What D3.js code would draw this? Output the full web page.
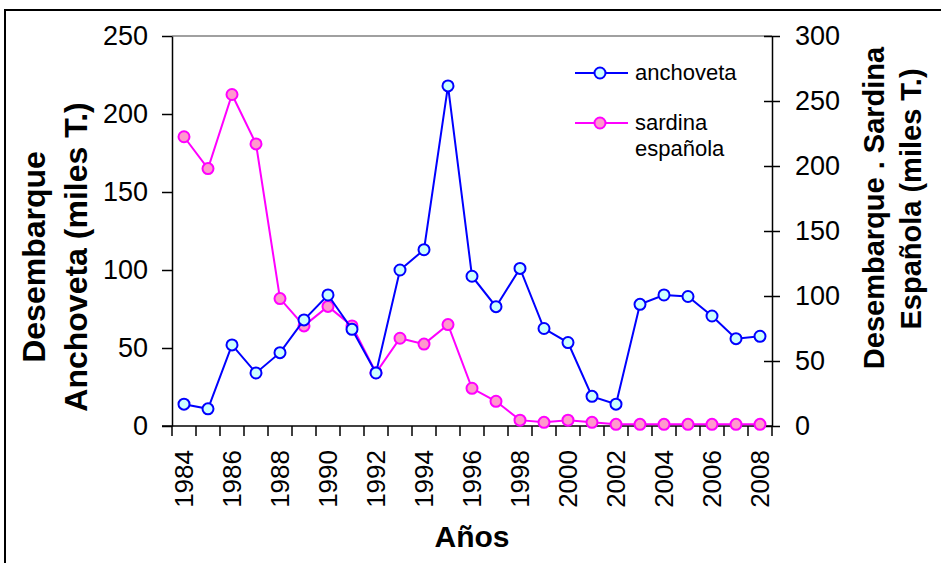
<!DOCTYPE html>
<html>
<head>
<meta charset="utf-8">
<script src="https://cdnjs.cloudflare.com/ajax/libs/d3/7.8.5/d3.min.js"></script>
<style>
body { margin: 0; background: #fff; }
text { font-family: "Liberation Sans", Arial, sans-serif; fill: #000; }
</style>
</head>
<body>
<svg id="chart" width="941" height="563"></svg>
<script>
var years = [1984, 1985, 1986, 1987, 1988, 1989, 1990, 1991, 1992, 1993, 1994, 1995, 1996,
             1997, 1998, 1999, 2000, 2001, 2002, 2003, 2004, 2005, 2006, 2007, 2008];
// miles T., left axis
var anchoveta = [14, 11, 52, 34, 47, 68, 84, 62, 34, 100, 113, 218, 96,
                 76.5, 101, 62.5, 53.5, 19, 14, 78, 84, 83, 70.5, 56, 57.5];
// miles T., right axis
var sardina = [222.5, 198, 255, 217, 98, 77, 92, 77, 41, 67.5, 63, 78, 29,
               19, 4.5, 2.8, 4.5, 2.8, 1.3, 1.3, 1.3, 1.3, 1.3, 1.3, 1.3];
var leftTicks = [0, 50, 100, 150, 200, 250];
var rightTicks = [0, 50, 100, 150, 200, 250, 300];
var yearLabels = years.filter(function (d, i) { return i % 2 == 0; });

var svg = d3.select("#chart");
var plotLeft = 172, plotRight = 772, plotTop = 36, plotBottom = 426;

// outer frame
svg.append("rect")
    .attr("x", 5).attr("y", 10)
    .attr("width", 1000).attr("height", 700)
    .attr("fill", "none")
    .attr("stroke", "#000")
    .attr("stroke-width", 2);

var x = d3.scaleBand().domain(years).range([plotLeft, plotRight]).padding(0);
var yLeft = d3.scaleLinear().domain([0, 250]).range([plotBottom, plotTop]);
var yRight = d3.scaleLinear().domain([0, 300]).range([plotBottom, plotTop]);
var cx = function (d) { return x(d) + x.bandwidth() / 2; };

// top border of plot area
svg.append("line")
    .attr("x1", plotLeft).attr("x2", plotRight)
    .attr("y1", plotTop).attr("y2", plotTop)
    .attr("stroke", "#808080")
    .attr("stroke-width", 1.5);

// left axis
var gLeft = svg.append("g")
    .attr("transform", "translate(" + plotLeft + ",0)")
    .call(d3.axisLeft(yLeft).tickValues(leftTicks).tickSize(10).tickSizeOuter(0).tickPadding(14));

// right axis, ticks cross the line
var gRight = svg.append("g")
    .attr("transform", "translate(" + plotRight + ",0)")
    .call(d3.axisRight(yRight).tickValues(rightTicks).tickSize(8).tickSizeOuter(0).tickPadding(15));
gRight.selectAll(".tick line").attr("x1", -8);

// x axis: ticks on category boundaries, labels every second year
var gX = svg.append("g")
    .attr("transform", "translate(0," + plotBottom + ")")
    .call(d3.axisBottom(x).tickValues(yearLabels).tickSize(0).tickSizeOuter(0));
gX.selectAll(".tick text")
    .attr("transform", "rotate(-90)")
    .attr("x", -24)
    .attr("y", 0)
    .attr("dy", "0.36em")
    .attr("text-anchor", "end");
gX.selectAll(".boundary")
    .data(years.concat(["end"]))
    .enter().append("line")
    .attr("class", "boundary")
    .attr("x1", function (d) { return d == "end" ? plotRight : x(d); })
    .attr("x2", function (d) { return d == "end" ? plotRight : x(d); })
    .attr("y1", 0).attr("y2", 10)
    .attr("stroke", "#000");

[gLeft, gRight, gX].forEach(function (g) {
    g.selectAll(".domain").attr("stroke", "#000").attr("stroke-width", 1.5);
    g.selectAll("line").attr("stroke", "#000").attr("stroke-width", 1.5);
    g.selectAll("text").attr("font-size", 27).attr("fill", "#000")
        .style("font-family", "'Liberation Sans', Arial, sans-serif");
});
gX.selectAll("text").attr("font-size", 26);
// x axis line runs out to the left tick
gX.select(".domain").attr("d", "M" + (plotLeft - 10) + ",0H" + plotRight);

// series
function drawSeries(values, yScale, stroke, fill) {
    var pts = years.map(function (d, i) { return [cx(d), yScale(values[i])]; });
    svg.append("path")
        .attr("d", d3.line()(pts))
        .attr("fill", "none")
        .attr("stroke", stroke)
        .attr("stroke-width", 2);
    svg.selectAll(null)
        .data(pts)
        .enter().append("circle")
        .attr("cx", function (p) { return p[0]; })
        .attr("cy", function (p) { return p[1]; })
        .attr("r", 5.5)
        .attr("fill", fill)
        .attr("stroke", stroke)
        .attr("stroke-width", 2);
}
drawSeries(sardina, yRight, "#ff00ff", "#ff99cc");
drawSeries(anchoveta, yLeft, "#0000ff", "#ccffff");

// legend
var legend = [
    { lines: ["anchoveta"], y: 73, stroke: "#0000ff", fill: "#ccffff" },
    { lines: ["sardina", "española"], y: 123, stroke: "#ff00ff", fill: "#ff99cc" }
];
legend.forEach(function (l) {
    svg.append("line")
        .attr("x1", 575).attr("x2", 628)
        .attr("y1", l.y).attr("y2", l.y)
        .attr("stroke", l.stroke).attr("stroke-width", 2);
    svg.append("circle")
        .attr("cx", 600).attr("cy", l.y).attr("r", 5.5)
        .attr("fill", l.fill).attr("stroke", l.stroke).attr("stroke-width", 2);
    l.lines.forEach(function (t, i) {
        svg.append("text")
            .attr("x", 635)
            .attr("y", l.y + 7 + i * 26)
            .attr("font-size", 22)
            .text(t);
    });
});

// axis titles
svg.append("text")
    .attr("x", (plotLeft + plotRight) / 2)
    .attr("y", 547)
    .attr("text-anchor", "middle")
    .attr("font-size", 30)
    .attr("font-weight", "bold")
    .text("Años");

function vTitle(txt, xBase, yCenter, size) {
    svg.append("text")
        .attr("transform", "translate(" + xBase + "," + yCenter + ") rotate(-90)")
        .attr("text-anchor", "middle")
        .attr("font-size", size)
        .attr("font-weight", "bold")
        .text(txt);
}
vTitle("Desembarque", 45, 257, 32);
vTitle("Anchoveta (miles T.)", 87, 257, 32);
vTitle("Desembarque . Sardina", 884, 208, 29);
vTitle("Española (miles T.)", 921, 199, 29);
</script>
</body>
</html>
